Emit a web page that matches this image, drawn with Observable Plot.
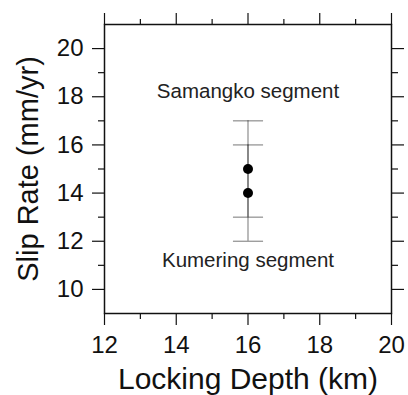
<!DOCTYPE html>
<html>
<head>
<meta charset="utf-8">
<script src="https://cdn.jsdelivr.net/npm/d3@7"></script>
<script src="https://cdn.jsdelivr.net/npm/@observablehq/plot@0.6"></script>
<style>
  html, body { margin: 0; padding: 0; background: #fff; }
  #chart svg { display: block; }
</style>
</head>
<body>
<div id="chart"></div>
<script>
// Data
const segments = ["Samangko segment", "Kumering segment"];
const lockingDepth = [16, 16];
const slipRate = [15, 14];
const slipError = [2, 2];
// annotation anchor (data units) for the segment names
const labelDepth = [16, 16];
const labelRate = [18.2, 11.2];

// Ticks
const xMajor = [12, 14, 16, 18, 20];
const xMinor = [13, 15, 17, 19];
const yMajor = [10, 12, 14, 16, 18, 20];
const yMinor = [11, 13, 15, 17, 19];

const points = segments.map((s, i) => ({
  segment: s, x: lockingDepth[i], y: slipRate[i],
  lo: slipRate[i] - slipError[i], hi: slipRate[i] + slipError[i]
}));
const caps = points.flatMap(d => [{x: d.x, y: d.lo}, {x: d.x, y: d.hi}]);
const labels = segments.map((s, i) => ({text: s, x: labelDepth[i], y: labelRate[i]}));

const hline = {
  draw(context, size) {
    const r = Math.sqrt(size);
    context.moveTo(-r, 0);
    context.lineTo(r, 0);
  }
};

const font = "'Liberation Sans', Arial, Helvetica, sans-serif";

const chart = Plot.plot({
  width: 408,
  height: 395,
  marginLeft: 104,
  marginRight: 17,
  marginTop: 24,
  marginBottom: 82,
  style: {fontFamily: font, color: "#111", background: "#fff"},
  x: {domain: [12, 20]},
  y: {domain: [9, 21]},
  marks: [
    // bottom axis
    Plot.axisX({anchor: "bottom", ticks: xMajor, tickSize: 12, tickPadding: 10, fontSize: 24, label: null, tickFormat: d => String(d), strokeWidth: 1.2}),
    Plot.axisX({anchor: "bottom", ticks: xMinor, tickSize: 6, text: null, label: null, strokeWidth: 1.2}),
    // top axis
    Plot.axisX({anchor: "top", ticks: xMajor, tickSize: 12, text: null, label: null, strokeWidth: 1.2}),
    Plot.axisX({anchor: "top", ticks: xMinor, tickSize: 6, text: null, label: null, strokeWidth: 1.2}),
    // left axis
    Plot.axisY({anchor: "left", ticks: yMajor, tickSize: 12, tickPadding: 9, fontSize: 24, label: null, tickFormat: d => String(d), strokeWidth: 1.2}),
    Plot.axisY({anchor: "left", ticks: yMinor, tickSize: 6, text: null, label: null, strokeWidth: 1.2}),
    // right axis
    Plot.axisY({anchor: "right", ticks: yMajor, tickSize: 12, text: null, label: null, strokeWidth: 1.2}),
    Plot.axisY({anchor: "right", ticks: yMinor, tickSize: 6, text: null, label: null, strokeWidth: 1.2}),
    Plot.frame({stroke: "#111", strokeWidth: 1.5}),
    // error bars
    Plot.ruleX(points, {x: "x", y1: "lo", y2: "hi", stroke: "#000", strokeOpacity: 0.45, strokeWidth: 1.2}),
    Plot.dot(caps, {x: "x", y: "y", symbol: hline, r: 8.5, stroke: "#000", strokeOpacity: 0.45, strokeWidth: 1.2, fill: "none"}),
    Plot.dot(points, {x: "x", y: "y", r: 5, fill: "#000", stroke: "none"}),
    // segment names
    Plot.text(labels, {x: "x", y: "y", text: "text", fontSize: 20.5, fill: "#222", lineAnchor: "middle"}),
    // axis titles
    Plot.text(["Locking Depth (km)"], {frameAnchor: "bottom", textAnchor: "middle", lineAnchor: "middle", dy: 66, fontSize: 30, fill: "#111"}),
    Plot.text(["Slip Rate (mm/yr)"], {frameAnchor: "left", textAnchor: "middle", lineAnchor: "middle", rotate: -90, dx: -76, fontSize: 29, fill: "#111"})
  ]
});
document.getElementById("chart").append(chart);
</script>
</body>
</html>
